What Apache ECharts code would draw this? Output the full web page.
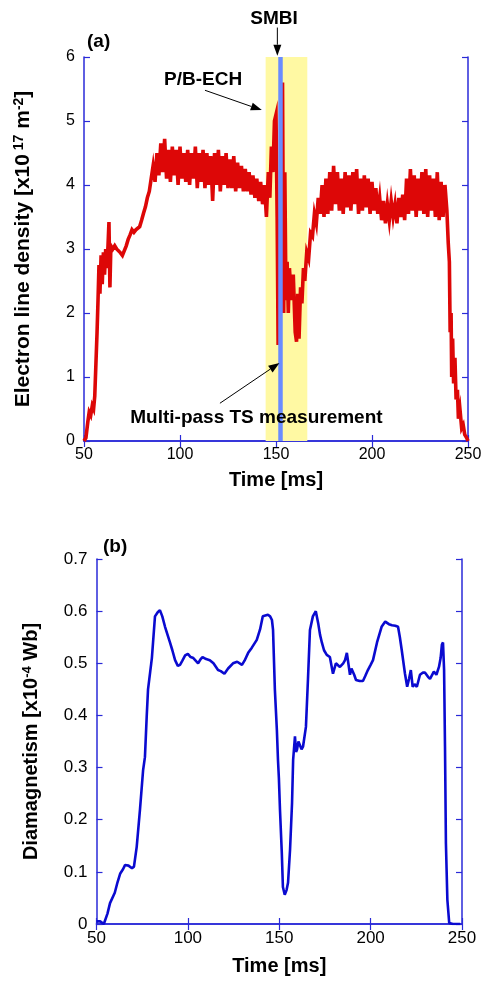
<!DOCTYPE html>
<html>
<head>
<meta charset="utf-8">
<script src="https://cdn.jsdelivr.net/npm/echarts@6/dist/echarts.min.js"></script>
<style>
  html, body { margin: 0; padding: 0; background: #fff; }
  #chart { width: 485px; height: 981px; }
</style>
</head>
<body>
<div id="chart"></div>
<script>
// (a) electron line density, x10^17 m^-2
const redTime = [
  50, 51, 52, 52.7, 53.5, 54.3, 55, 55.6, 56.2, 56.8, 57.3, 57.8, 58.3, 58.9, 59.5, 60.1, 60.7, 61.3, 61.9, 62.5,
  63, 63.5, 64, 65, 66, 67, 68, 69, 70, 71, 72, 73, 74, 75, 76, 77, 78, 79, 80, 81,
  82, 83, 84, 85, 86, 87, 88, 89, 90, 91, 92, 93, 94, 95, 96, 97, 98, 99, 100, 101,
  102, 103, 104, 105, 106, 107, 108, 109, 110, 111, 112, 113, 114, 115, 116, 117, 118, 119, 120, 121,
  122, 123, 124, 125, 126, 127, 128, 129, 130, 131, 132, 133, 134, 135, 136, 137, 138, 139, 140, 141,
  142, 143, 144, 145, 146, 146.8, 147.6, 148.4, 149.2, 150, 150.6, 151.1, 152.3, 153.4, 154, 154.6, 155.2, 155.8, 156.4, 157,
  158, 159, 160, 160.7, 161.3, 162, 162.8, 163.5, 164.3, 165, 166, 167, 168, 169, 170, 171, 172, 173, 174, 175,
  176, 177, 178, 179, 180, 181, 182, 183, 184, 185, 186, 187, 188, 189, 190, 191, 192, 193, 194, 195,
  196, 197, 198, 199, 200, 201, 202, 203, 204, 205, 206, 207, 208, 209, 210, 211, 212, 213, 214, 215,
  216, 217, 218, 219, 220, 221, 222, 223, 224, 225, 226, 227, 228, 229, 230, 231, 232, 233, 234, 235,
  236, 237, 238, 239, 239.7, 240.3, 240.7, 241.2, 241.5, 242, 242.5, 243.2, 243.8, 244.5, 245, 245.8, 246.7, 247.5, 248.3, 249.3,
  250
];
const redDensity = [
  0, 0.05, 0.3, 0.45, 0.4, 0.55, 0.5, 0.7, 1.2, 1.7, 2.2, 2.75, 2.3, 2.9, 2.45, 2.95, 2.6, 3.0, 2.7, 3.05,
  3.42, 2.4, 3.05, 3.0, 3.05, 3.0, 2.98, 2.94, 2.9, 2.92, 3.05, 3.15, 3.22, 3.3, 3.26, 3.3, 3.27, 3.35, 3.45, 3.56,
  3.66, 3.8, 3.9, 4.1, 4.3, 4.05, 4.5, 4.15, 4.65, 4.2, 4.72, 4.1, 4.55, 4.05, 4.6, 4.15, 4.55, 4.0, 4.6, 4.1,
  4.5, 4.05, 4.55, 4.0, 4.5, 4.1, 4.6, 3.95, 4.5, 4.05, 4.55, 3.95, 4.5, 4.0, 4.45, 3.75, 4.5, 4.0, 4.55, 3.9,
  4.45, 4.0, 4.5, 3.95, 4.4, 3.95, 4.45, 3.9, 4.35, 3.95, 4.3, 3.9, 4.25, 3.9, 4.2, 3.85, 4.15, 3.8, 4.1, 3.75,
  4.05, 3.7, 4.0, 3.5, 4.2, 3.8, 4.6, 4.2, 5.0, 5.1, 3.5, 1.5, 3.0, 5.6, 2.0, 4.2, 2.2, 2.8, 2.0, 2.7,
  2.2, 2.6, 1.7, 1.55, 2.3, 1.6, 2.4, 2.15, 2.7, 2.5, 2.95, 2.85, 3.25, 3.2, 3.55, 3.4, 3.8, 3.55, 4.0, 3.5,
  4.1, 3.55, 4.2, 3.6, 4.3, 3.7, 4.2, 3.6, 4.1, 3.55, 4.2, 3.65, 4.15, 3.6, 4.2, 3.7, 4.25, 3.55, 4.1, 3.6,
  4.15, 3.65, 4.1, 3.55, 4.05, 3.6, 3.95, 3.55, 3.8, 3.45, 3.75, 3.4, 3.7, 3.45, 3.75, 3.5, 3.7, 3.4, 3.8, 3.5,
  3.85, 3.45, 4.1, 3.55, 4.25, 3.6, 4.15, 3.5, 4.1, 3.6, 4.2, 3.55, 4.25, 3.5, 4.15, 3.6, 4.1, 3.5, 4.2, 3.45,
  4.05, 3.5, 4.0, 3.6, 3.1, 2.8, 1.7, 2.0, 1.0, 1.6, 0.9, 1.3, 0.65, 0.8, 0.35, 0.5, 0.2, 0.25, 0.1, 0.05,
  0
];

// (b) diamagnetism, x10^-4 Wb
const blueTime = [
  50, 52, 54, 54.6, 56, 57.4, 60, 61.5, 63, 64.5, 65.6, 67.5, 69.4, 70.5, 72, 73.8, 75.5, 76.5, 77.5, 78.2,
  80.3, 82, 83.5, 84.7, 86, 87.5, 90.2, 91.5, 93, 94.5, 95.7, 97, 98.5, 100, 101.5, 103, 105.6, 107, 108, 110,
  112, 114, 116.5, 118, 120, 122, 124.7, 127, 129.6, 131, 133, 135, 137.7, 139.5, 141, 143.8, 145, 146, 146.6, 147.6,
  148.7, 149.3, 149.8, 150.4, 151.4, 152, 153, 154, 154.8, 155.9, 157, 157.6, 158.6, 159.2, 159.7, 160.5, 161.4, 162.2, 163, 164.6,
  165.7, 166.8, 168.4, 170, 171.3, 172.3, 173.3, 174.5, 176, 177.7, 179.4, 181, 183.2, 185, 186, 187, 188.7, 189.5, 191, 192,
  194, 195.8, 197, 198.5, 200, 201.3, 203.5, 206, 208, 209, 210, 211.7, 213.5, 215, 216, 217, 218.8, 220, 221, 222,
  223, 224, 225.3, 227, 228.5, 229.8, 231.4, 232.5, 233.5, 234.6, 236, 237.4, 238.3, 239, 239.6, 240.2, 240.7, 241.2, 242, 243,
  245, 249
];
const blueDia = [
  0.005, 0.005, 0.0, 0.0, 0.02, 0.04, 0.06, 0.08, 0.097, 0.105, 0.113, 0.112, 0.107, 0.11, 0.148, 0.22, 0.295, 0.32, 0.4, 0.45,
  0.51, 0.59, 0.598, 0.602, 0.59, 0.57, 0.54, 0.525, 0.506, 0.495, 0.497, 0.505, 0.515, 0.518, 0.512, 0.51, 0.5, 0.508, 0.512, 0.508,
  0.506, 0.5, 0.487, 0.485, 0.48, 0.49, 0.5, 0.503, 0.497, 0.505, 0.52, 0.53, 0.545, 0.565, 0.59, 0.593, 0.59, 0.583, 0.564, 0.45,
  0.372, 0.315, 0.28, 0.219, 0.136, 0.071, 0.056, 0.065, 0.079, 0.142, 0.232, 0.315, 0.36, 0.33, 0.334, 0.35, 0.347, 0.335, 0.34, 0.378,
  0.468, 0.564, 0.59, 0.6, 0.577, 0.555, 0.54, 0.525, 0.516, 0.512, 0.48, 0.5, 0.493, 0.5, 0.506, 0.52, 0.478, 0.49, 0.478, 0.468,
  0.466, 0.466, 0.475, 0.487, 0.497, 0.506, 0.54, 0.57, 0.58, 0.581, 0.575, 0.573, 0.572, 0.57, 0.55, 0.526, 0.48, 0.455, 0.47, 0.487,
  0.455, 0.46, 0.455, 0.478, 0.482, 0.482, 0.474, 0.47, 0.468, 0.484, 0.478, 0.493, 0.51, 0.536, 0.54, 0.487, 0.34, 0.155, 0.046, 0.002,
  0, 0
];

const echBand = [144.6, 166.3];   // shaded P/B-ECH window
const tsTime = 152.3;             // Multi-pass TS measurement
const xTicks = {min: 50, max: 250, interval: 50};

// annotations in data coordinates of panel (a): [text, textPos, arrowFrom, arrowTo]
const notes = [
  ['SMBI', [149, 6.59], [150.7, 6.46], [150.7, 6.02]],
  ['P/B-ECH', [112, 5.65], [113, 5.48], [142.6, 5.17]],
  ['Multi-pass TS measurement', [139.8, 0.36], [120.8, 0.59], [151.8, 1.22]]
];

const FONT = '"Liberation Sans", Arial, sans-serif';
const AXIS_BLUE = '#2a2ad8';

const chart = echarts.init(document.getElementById('chart'), null, {renderer: 'canvas'});

function zip(a, b) { return a.map((v, i) => [v, b[i]]); }

function xAxisPair(grid, fs, name, gap) {
  return [
    {
      gridIndex: grid, type: 'value', position: 'bottom',
      min: xTicks.min, max: xTicks.max, interval: xTicks.interval,
      name: name, nameLocation: 'middle', nameGap: gap,
      nameTextStyle: {fontFamily: FONT, fontWeight: 'bold', fontSize: 20, color: '#000'},
      axisLine: {lineStyle: {color: AXIS_BLUE, width: 1.5}},
      axisTick: {inside: true, length: 6, lineStyle: {color: AXIS_BLUE, width: 1.2}},
      axisLabel: {fontFamily: FONT, fontSize: fs, color: '#000', margin: 6},
      splitLine: {show: false}
    },
    {
      gridIndex: grid, type: 'value', position: 'top',
      min: xTicks.min, max: xTicks.max, interval: xTicks.interval,
      axisLine: {lineStyle: {color: AXIS_BLUE, width: 1.5}},
      axisTick: {inside: true, length: 6, lineStyle: {color: AXIS_BLUE, width: 1.2}},
      axisLabel: {show: false},
      splitLine: {show: false}
    }
  ];
}

function yAxisPair(grid, max, interval, fs, name, gap, sup) {
  return [
    {
      gridIndex: grid, type: 'value', position: 'left',
      min: 0, max: max, interval: interval,
      name: name, nameLocation: 'middle', nameGap: gap, nameRotate: 90,
      nameTextStyle: {
        fontFamily: FONT, fontWeight: 'bold', fontSize: sup.main, color: '#000',
        rich: {sup: {fontFamily: FONT, fontWeight: 'bold', fontSize: sup.small, color: '#000', verticalAlign: 'top', padding: [0, 0, sup.lift, 0]}}
      },
      axisLine: {lineStyle: {color: AXIS_BLUE, width: 1.5}},
      axisTick: {inside: true, length: 6, lineStyle: {color: AXIS_BLUE, width: 1.2}},
      axisLabel: {fontFamily: FONT, fontSize: fs, color: '#000', margin: 9},
      splitLine: {show: false}
    },
    {
      gridIndex: grid, type: 'value', position: 'right',
      min: 0, max: max, interval: interval,
      axisLine: {lineStyle: {color: AXIS_BLUE, width: 1.5}},
      axisTick: {inside: true, length: 6, lineStyle: {color: AXIS_BLUE, width: 1.2}},
      axisLabel: {show: false},
      splitLine: {show: false}
    }
  ];
}

const option = {
  animation: false,
  backgroundColor: '#fff',
  grid: [
    {left: 84, right: 17, top: 57, height: 384},
    {left: 96.5, right: 23, top: 559, height: 365}
  ],
  xAxis: [].concat(xAxisPair(0, 16, 'Time [ms]', 29), xAxisPair(1, 17, 'Time [ms]', 32)),
  yAxis: [].concat(
    yAxisPair(0, 6, 1, 16, 'Electron line density [x10{sup| 17} m{sup|-2}]', 50, {main: 21, small: 14, lift: 8}),
    yAxisPair(1, 0.7, 0.1, 17, 'Diamagnetism [x10{sup|-4} Wb]', 55, {main: 20, small: 13, lift: 8})
  ),
  series: [
    {
      name: 'band', type: 'line', xAxisIndex: 0, yAxisIndex: 0, data: [], z: 1,
      markArea: {silent: true, itemStyle: {color: '#fff9a3'}, data: [[{xAxis: echBand[0]}, {xAxis: echBand[1]}]]}
    },
    {
      name: 'ne', type: 'line', xAxisIndex: 0, yAxisIndex: 0, z: 2,
      data: zip(redTime, redDensity), showSymbol: false, symbol: 'none',
      lineStyle: {color: '#dd0707', width: 3.6, join: 'miter'}
    },
    {
      name: 'ts', type: 'line', xAxisIndex: 0, yAxisIndex: 0, data: [], z: 3,
      markLine: {
        silent: true, symbol: ['none', 'none'], label: {show: false},
        lineStyle: {color: '#6a8cff', width: 4.5, type: 'solid'},
        data: [{xAxis: tsTime}]
      }
    },
    {
      name: 'dia', type: 'line', xAxisIndex: 2, yAxisIndex: 2, z: 2,
      data: zip(blueTime, blueDia), showSymbol: false, symbol: 'none',
      lineStyle: {color: '#0a0ad0', width: 2.6}
    }
  ]
};

chart.setOption(option);

// annotation texts and arrows placed from data coordinates
const graphics = [];
function px(p) { return chart.convertToPixel({gridIndex: 0}, p); }
notes.forEach(([label, at, from, to]) => {
  const c = px(at), a = px(from), b = px(to);
  graphics.push({type: 'text', z: 100, x: c[0], y: c[1], style: {
    text: label, fontFamily: FONT, fontWeight: 'bold', fontSize: 19, fill: '#000',
    align: 'center', verticalAlign: 'middle'}});
  const dx = b[0] - a[0], dy = b[1] - a[1], len = Math.hypot(dx, dy);
  const ux = dx / len, uy = dy / len, L = 11, W = 4;
  const bx = b[0] - ux * L, by = b[1] - uy * L;
  graphics.push({type: 'line', z: 100, shape: {x1: a[0], y1: a[1], x2: bx, y2: by}, style: {stroke: '#000', lineWidth: 1}});
  graphics.push({type: 'polygon', z: 100, shape: {points: [[b[0], b[1]], [bx - uy * W, by + ux * W], [bx + uy * W, by - ux * W]]}, style: {fill: '#000'}});
});
// panel labels
graphics.push({type: 'text', z: 100, left: 87, top: 32, style: {text: '(a)', fontFamily: FONT, fontWeight: 'bold', fontSize: 19, fill: '#000'}});
graphics.push({type: 'text', z: 100, left: 103, top: 537, style: {text: '(b)', fontFamily: FONT, fontWeight: 'bold', fontSize: 19, fill: '#000'}});

chart.setOption({graphic: graphics});
</script>
</body>
</html>
